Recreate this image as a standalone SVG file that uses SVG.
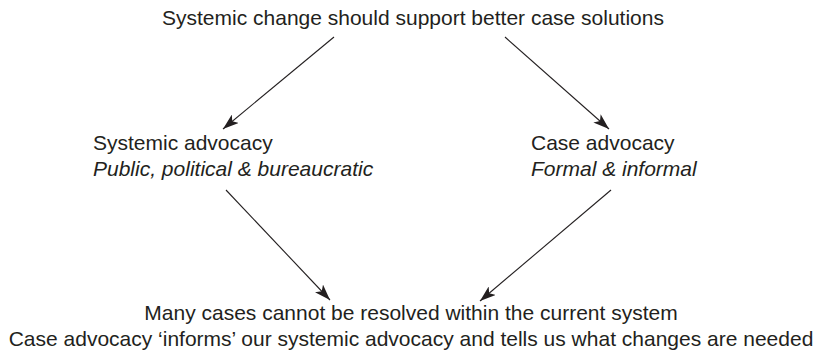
<svg xmlns="http://www.w3.org/2000/svg" width="822" height="353" viewBox="0 0 822 353">
<style>
text{font-family:"Liberation Sans",Arial,sans-serif;font-size:21px;fill:#231f20}
.it{font-style:italic}
.c{text-anchor:middle}
.conn line{stroke:#231f20;stroke-width:1.1;marker-end:url(#ah)}
</style>
<defs>
<marker id="ah" viewBox="0 0 16 11" refX="16" refY="5.5" markerWidth="16" markerHeight="11" markerUnits="userSpaceOnUse" orient="auto">
<path d="M0,0 L16,5.5 L0,11 L4,5.5 Z" fill="#231f20"/>
</marker>
</defs>
<rect width="822" height="353" fill="#fff"/>
<g id="top"><text class="c" x="413" y="25">Systemic change should support better case solutions</text></g>
<g id="systemic"><text x="93" y="150">Systemic advocacy</text><text class="it" x="93" y="175.5">Public, political &amp; bureaucratic</text></g>
<g id="case"><text x="531" y="150">Case advocacy</text><text class="it" x="531" y="175.5">Formal &amp; informal</text></g>
<g id="bottom"><text class="c" x="411" y="320">Many cases cannot be resolved within the current system</text><text class="c" x="411" y="346">Case advocacy ‘informs’ our systemic advocacy and tells us what changes are needed</text></g>
<g class="conn">
<line x1="334" y1="37" x2="223" y2="129"/>
<line x1="505" y1="37" x2="609" y2="129"/>
<line x1="226" y1="190" x2="330" y2="300"/>
<line x1="611" y1="190" x2="480" y2="301"/>
</g>
</svg>
